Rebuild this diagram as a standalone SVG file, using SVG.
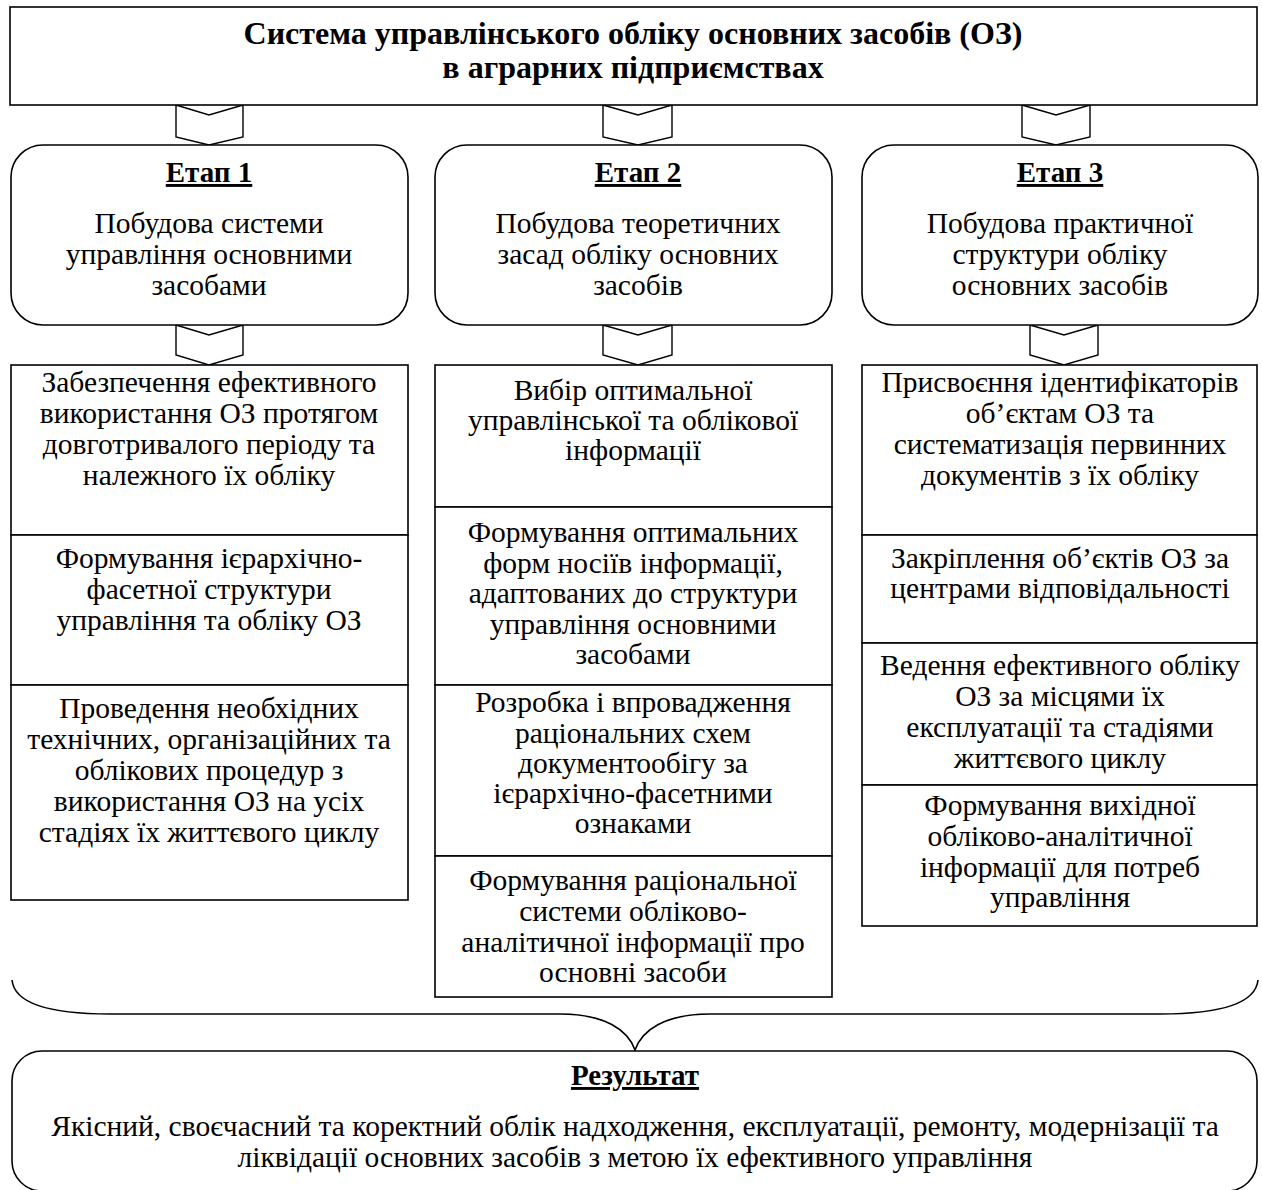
<svg xmlns="http://www.w3.org/2000/svg" width="1262" height="1190" viewBox="0 0 1262 1190">
  <style>
    .box { fill: #ffffff; stroke: #000000; stroke-width: 1.6; }
    .chev { fill: #ffffff; stroke: #000000; stroke-width: 1.4; stroke-linejoin: miter; }
    .brace { fill: none; stroke: #000000; stroke-width: 1.6; }
    text { font-family: "Liberation Serif", "Times New Roman", serif; fill: #000000; text-anchor: middle; }
    .title { font-size: 32px; font-weight: bold; }
    .head { font-size: 29px; font-weight: bold; text-decoration: underline; }
    .body { font-size: 29.5px; }
  </style>

  <rect width="1262" height="1190" fill="#ffffff"/>

  <!-- connectors: chevrons between levels and the collecting brace -->
  <g id="connectors">
    <polygon class="chev" points="176,105 209,115 243,105 243,137 209,145 176,137"/>
    <polygon class="chev" points="603,105 638,115 672,105 672,137 638,145 603,137"/>
    <polygon class="chev" points="1022,105 1056,115 1090,105 1090,137 1056,145 1022,137"/>
    <polygon class="chev" points="176,325 209,335 243,325 243,355 209,365 176,355"/>
    <polygon class="chev" points="603,325 638,335 672,325 672,355 638,365 603,355"/>
    <polygon class="chev" points="1030,325 1064,335 1098,325 1098,355 1064,365 1030,355"/>
    <path class="brace" d="M12,980 C14,1000 40,1014 110,1014 L560,1014 C605,1014 628,1030 635,1050 C642,1030 665,1014 710,1014 L1160,1014 C1230,1014 1256,1000 1258,980"/>
  </g>

  <g id="title">
    <rect class="box" x="10" y="7" width="1247" height="98"/>
    <text class="title" x="633" y="44">Система управлінського обліку основних засобів (ОЗ)</text>
    <text class="title" x="633" y="78">в аграрних підприємствах</text>
  </g>

  <g id="stage1">
    <rect class="box" x="11" y="145" width="397" height="180" rx="32" ry="32"/>
    <text class="head" x="209" y="182">Етап 1</text>
    <text class="body" x="209" y="233">Побудова системи</text>
    <text class="body" x="209" y="264">управління основними</text>
    <text class="body" x="209" y="295">засобами</text>
  </g>

  <g id="stage2">
    <rect class="box" x="435" y="145" width="397" height="180" rx="32" ry="32"/>
    <text class="head" x="638" y="182">Етап 2</text>
    <text class="body" x="638" y="233">Побудова теоретичних</text>
    <text class="body" x="638" y="264">засад обліку основних</text>
    <text class="body" x="638" y="295">засобів</text>
  </g>

  <g id="stage3">
    <rect class="box" x="862" y="145" width="396" height="180" rx="32" ry="32"/>
    <text class="head" x="1060" y="182">Етап 3</text>
    <text class="body" x="1060" y="233">Побудова практичної</text>
    <text class="body" x="1060" y="264">структури обліку</text>
    <text class="body" x="1060" y="295">основних засобів</text>
  </g>

  <!-- stage 1 tasks -->
  <g id="s1-task1">
    <rect class="box" x="11" y="365" width="397" height="170"/>
    <text class="body" x="209" y="392">Забезпечення ефективного</text>
    <text class="body" x="209" y="423">використання ОЗ протягом</text>
    <text class="body" x="209" y="454">довготривалого періоду та</text>
    <text class="body" x="209" y="485">належного їх обліку</text>
  </g>
  <g id="s1-task2">
    <rect class="box" x="11" y="535" width="397" height="150"/>
    <text class="body" x="209" y="568">Формування ієрархічно-</text>
    <text class="body" x="209" y="599">фасетної структури</text>
    <text class="body" x="209" y="630">управління та обліку ОЗ</text>
  </g>
  <g id="s1-task3">
    <rect class="box" x="11" y="685" width="397" height="215"/>
    <text class="body" x="209" y="718">Проведення необхідних</text>
    <text class="body" x="209" y="749">технічних, організаційних та</text>
    <text class="body" x="209" y="780">облікових процедур з</text>
    <text class="body" x="209" y="811">використання ОЗ на усіх</text>
    <text class="body" x="209" y="842">стадіях їх життєвого циклу</text>
  </g>

  <!-- stage 2 tasks -->
  <g id="s2-task1">
    <rect class="box" x="435" y="365" width="397" height="142"/>
    <text class="body" x="633" y="400">Вибір оптимальної</text>
    <text class="body" x="633" y="430">управлінської та облікової</text>
    <text class="body" x="633" y="460">інформації</text>
  </g>
  <g id="s2-task2">
    <rect class="box" x="435" y="507" width="397" height="178"/>
    <text class="body" x="633" y="542">Формування оптимальних</text>
    <text class="body" x="633" y="573">форм носіїв інформації,</text>
    <text class="body" x="633" y="603">адаптованих до структури</text>
    <text class="body" x="633" y="634">управління основними</text>
    <text class="body" x="633" y="664">засобами</text>
  </g>
  <g id="s2-task3">
    <rect class="box" x="435" y="685" width="397" height="171"/>
    <text class="body" x="633" y="712">Розробка і впровадження</text>
    <text class="body" x="633" y="743">раціональних схем</text>
    <text class="body" x="633" y="773">документообігу за</text>
    <text class="body" x="633" y="803">ієрархічно-фасетними</text>
    <text class="body" x="633" y="833">ознаками</text>
  </g>
  <g id="s2-task4">
    <rect class="box" x="435" y="856" width="397" height="141"/>
    <text class="body" x="633" y="890">Формування раціональної</text>
    <text class="body" x="633" y="921">системи обліково-</text>
    <text class="body" x="633" y="952">аналітичної інформації про</text>
    <text class="body" x="633" y="982">основні засоби</text>
  </g>

  <!-- stage 3 tasks -->
  <g id="s3-task1">
    <rect class="box" x="862" y="365" width="395" height="170"/>
    <text class="body" x="1060" y="392">Присвоєння ідентифікаторів</text>
    <text class="body" x="1060" y="423">об’єктам ОЗ та</text>
    <text class="body" x="1060" y="454">систематизація первинних</text>
    <text class="body" x="1060" y="485">документів з їх обліку</text>
  </g>
  <g id="s3-task2">
    <rect class="box" x="862" y="535" width="395" height="108"/>
    <text class="body" x="1060" y="568">Закріплення об’єктів ОЗ за</text>
    <text class="body" x="1060" y="598">центрами відповідальності</text>
  </g>
  <g id="s3-task3">
    <rect class="box" x="862" y="643" width="395" height="142"/>
    <text class="body" x="1060" y="675">Ведення ефективного обліку</text>
    <text class="body" x="1060" y="706">ОЗ за місцями їх</text>
    <text class="body" x="1060" y="737">експлуатації та стадіями</text>
    <text class="body" x="1060" y="768">життєвого циклу</text>
  </g>
  <g id="s3-task4">
    <rect class="box" x="862" y="785" width="395" height="141"/>
    <text class="body" x="1060" y="815">Формування вихідної</text>
    <text class="body" x="1060" y="846">обліково-аналітичної</text>
    <text class="body" x="1060" y="877">інформації для потреб</text>
    <text class="body" x="1060" y="907">управління</text>
  </g>

  <g id="result">
    <rect class="box" x="12" y="1051" width="1245" height="140" rx="30" ry="30"/>
    <text class="head" x="635" y="1085">Результат</text>
    <text class="body" x="635" y="1136">Якісний, своєчасний та коректний облік надходження, експлуатації, ремонту, модернізації та</text>
    <text class="body" x="635" y="1167">ліквідації основних засобів з метою їх ефективного управління</text>
  </g>
</svg>
